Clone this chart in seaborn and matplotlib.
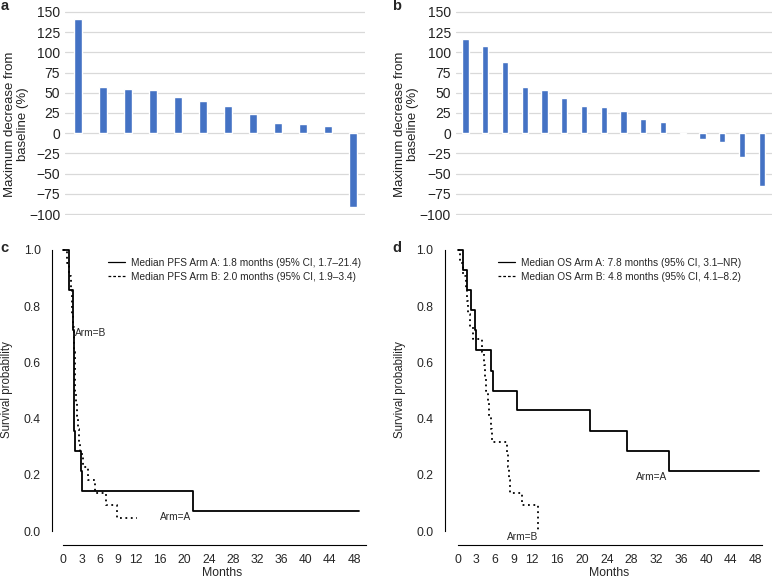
import numpy as np
import pandas as pd
import matplotlib
matplotlib.use("Agg")
import matplotlib.pyplot as plt
import seaborn as sns
from matplotlib.lines import Line2D

sns.set_theme(style="white")
plt.rcParams['font.family'] = ['Liberation Sans', 'DejaVu Sans']

# ---------------- data ----------------
# panel a: maximum decrease from baseline (%), one bar per patient
a_patients = [f"P{i}" for i in range(1, 13)]
a_values = [141, 57, 55, 53, 45, 40, 34, 24, 13, 11, 8.5, -91]

# panel b
b_patients = [f"P{i}" for i in range(1, 17)]
b_values = [117, 108, 88, 57, 53, 43, 34, 32, 27, 17, 14, -1, -7, -11, -29, -65]

bar_ticks = [-100, -75, -50, -25, 0, 25, 50, 75, 100, 125, 150]

# panel c: PFS Kaplan-Meier step points (time in months, survival)
pfs_a_t = [0, 1.0, 1.55, 1.8, 1.85, 3.0, 3.1, 21.4, 48.8]
pfs_a_s = [1.0, 0.857, 0.714, 0.357, 0.286, 0.214, 0.143, 0.071, 0.071]
pfs_b_t = [0, 0.6, 0.9, 1.2, 1.4, 1.5, 1.6, 1.7, 1.8, 1.85, 1.9, 2.0, 2.1, 2.3,
           2.5, 2.6, 2.8, 3.3, 4.0, 5.3, 7.0, 8.9, 12.1]
pfs_b_s = [1.0, 0.955, 0.909, 0.864, 0.818, 0.773, 0.727, 0.682, 0.636, 0.591,
           0.545, 0.5, 0.455, 0.409, 0.364, 0.318, 0.273, 0.227, 0.182, 0.136,
           0.091, 0.045, 0.045]

# panel d: OS Kaplan-Meier step points
os_a_t = [0, 0.8, 1.5, 2.1, 2.7, 3.0, 5.3, 5.7, 9.5, 21.3, 27.3, 34.0, 48.5]
os_a_s = [1.0, 0.929, 0.857, 0.786, 0.714, 0.643, 0.571, 0.5, 0.429, 0.357,
          0.286, 0.214, 0.214]
os_b_t = [0, 0.3, 0.9, 1.3, 1.5, 1.7, 1.9, 2.5, 3.9, 4.2, 4.4, 4.6, 4.8, 5.0,
          5.3, 5.5, 8.0, 8.1, 8.2, 8.4, 10.3, 12.9]
os_b_s = [1.0, 0.955, 0.909, 0.864, 0.818, 0.773, 0.727, 0.682, 0.636, 0.591,
          0.545, 0.5, 0.455, 0.409, 0.364, 0.318, 0.273, 0.227, 0.182, 0.136,
          0.091, 0.0]

km_yticks = [0.0, 0.2, 0.4, 0.6, 0.8, 1.0]
km_xlabels = [0, 3, 6, 9, 12, 16, 20, 24, 28, 32, 36, 40, 44, 48]

pfs_legend = ["Median PFS Arm A: 1.8 months (95% CI, 1.7\u201321.4)",
              "Median PFS Arm B: 2.0 months (95% CI, 1.9\u20133.4)"]
os_legend = ["Median OS Arm A: 7.8 months (95% CI, 3.1\u2013NR)",
             "Median OS Arm B: 4.8 months (95% CI, 4.1\u20138.2)"]

# ---------------- figure ----------------
W, H = 777, 578
fig = plt.figure(figsize=(W / 100, H / 100), dpi=100)


def px_axes(left, top, right, bottom):
    return fig.add_axes([left / W, 1 - bottom / H, (right - left) / W, (bottom - top) / H])


BLUE = "#4472C4"
GRID = "#d9d9d9"


def bar_panel(ax, cats, vals):
    df = pd.DataFrame({"patient": cats, "value": vals})
    sns.barplot(data=df, x="patient", y="value", ax=ax, color=BLUE,
                saturation=1, width=0.32)
    ax.set_ylim(-101, 151)
    ax.set_yticks(bar_ticks)
    ax.set_yticklabels([f"{v}".replace("-", "\u2212") for v in bar_ticks])
    ax.yaxis.grid(True, color=GRID, lw=0.9)
    ax.set_axisbelow(True)
    ax.tick_params(axis="x", bottom=False, labelbottom=False, length=0)
    ax.tick_params(axis="y", left=False, length=0, pad=3.5, labelsize=10, colors="#222222")
    ax.set_xlabel("")
    ax.set_ylabel("")
    sns.despine(ax=ax, left=True, bottom=True)


ax_a = px_axes(65, 11, 365, 215)
bar_panel(ax_a, a_patients, a_values)
ax_b = px_axes(455.7, 11, 771.7, 215)
bar_panel(ax_b, b_patients, b_values)

for xc in (16.5, 406.5):
    fig.text(xc / W, 1 - 124 / H, "Maximum decrease from\nbaseline (%)", rotation=90,
             ha="center", va="center", fontsize=9.5, color="#222222", linespacing=1.05)


def km_panel(ax, ta, sa, tb, sb, xlim, xend, legend_labels, leg_x):
    sns.lineplot(x=ta, y=sa, ax=ax, drawstyle="steps-post", estimator=None,
                 sort=False, color="black", lw=1.3)
    sns.lineplot(x=tb, y=sb, ax=ax, drawstyle="steps-post", estimator=None,
                 sort=False, color="black", lw=1.3, linestyle=(0, (1, 2)))
    ax.set_xlim(*xlim)
    ax.set_ylim(-0.05, 1.04)
    ax.set_yticks(km_yticks)
    ax.set_yticklabels([f"{v:.1f}" for v in km_yticks])
    ax.set_xticks(km_xlabels)
    ax.set_xticklabels([str(v) for v in km_xlabels])
    ax.set_xticks(np.arange(0, xend + 1), minor=True)
    for side in ("top", "right"):
        ax.spines[side].set_visible(False)
    ax.spines["left"].set_bounds(0, 1)
    ax.spines["bottom"].set_bounds(0, xend)
    for side in ("left", "bottom"):
        ax.spines[side].set_linewidth(0.8)
        ax.spines[side].set_color("black")
    ax.tick_params(axis="both", which="both", direction="out", length=3.5,
                   width=0.8, color="black", labelsize=8.7, pad=3)
    ax.tick_params(axis="y", pad=4.5)
    ax.set_xlabel("")
    ax.set_ylabel("")
    handles = [Line2D([], [], color="black", lw=0.9),
               Line2D([], [], color="black", lw=0.9, linestyle=(0, (2.2, 1.6)))]
    ax.legend(handles, legend_labels, loc="upper left",
              bbox_to_anchor=(leg_x / W, 1 - 257.5 / H), bbox_transform=fig.transFigure,
              frameon=False, borderpad=0, borderaxespad=0, handlelength=1.75,
              handletextpad=0.6, labelspacing=0.42, fontsize=7.3)


ax_c = px_axes(51.8, 238.75, 378.4, 545.1)
km_panel(ax_c, pfs_a_t, pfs_a_s, pfs_b_t, pfs_b_s, (-1.9, 52), 50, pfs_legend, 107.5)
ax_c.text(1.9, 0.704, "Arm=B", ha="left", va="center", fontsize=7.3)
ax_c.text(18.6, 0.05, "Arm=A", ha="center", va="center", fontsize=7.3)

ax_d = px_axes(444.7, 238.75, 774.4, 545.1)
km_panel(ax_d, os_a_t, os_a_s, os_b_t, os_b_s, (-2.1, 51), 49, os_legend, 497.5)
ax_d.text(31.3, 0.192, "Arm=A", ha="center", va="center", fontsize=7.3)
ax_d.text(10.5, -0.021, "Arm=B", ha="center", va="center", fontsize=7.3)

for xc, ax_ in ((7.5, ax_c), (400, ax_d)):
    fig.text(xc / W, 1 - 390 / H, "Survival probability", rotation=90,
             ha="center", va="center", fontsize=8.3)
fig.text(222 / W, 1 - 573 / H, "Months", ha="center", va="center", fontsize=8.8)
fig.text(609 / W, 1 - 573 / H, "Months", ha="center", va="center", fontsize=8.8)

for x, y, s in ((0.5, 5.5, "a"), (392, 5.5, "b"), (0.5, 248, "c"), (392, 248, "d")):
    fig.text(x / W, 1 - y / H, s, ha="left", va="center", fontsize=10.5, fontweight="bold")

fig.savefig("out.png", dpi=100)
